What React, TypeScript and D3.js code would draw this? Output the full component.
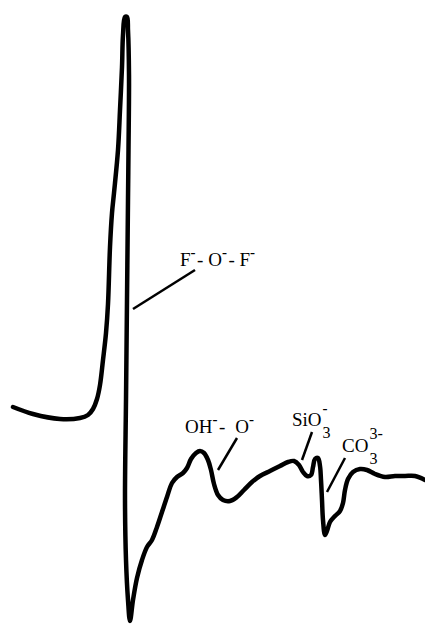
import * as d3 from "d3";
import React from "react";

// spectrum trace: field (arb. units) vs signal (arb. units, up = positive)
const field = [
  0, 20, 47, 67, 75, 80, 84, 87, 90, 93, 95, 97, 99, 101, 105, 107, 109, 110, 112, 114,
  115, 116, 115.5, 115, 114, 113, 112, 113, 115, 117, 120, 124, 129, 134, 139, 144, 149,
  154, 159, 164, 170, 174, 178, 183, 187, 191, 195, 198, 201, 205, 210, 217, 224, 231,
  239, 247, 257, 267, 275, 281, 286, 290, 294, 298, 300, 302, 305, 307, 308, 309, 310,
  312, 314, 317, 322, 327, 330, 332, 335, 340, 347, 354, 362, 372, 382, 392, 402, 412,
];
const signal = [
  0, -7, -12, -11, -8, -2, 8, 22, 47, 74, 103, 160, 194, 214, 257, 297, 340, 372, 390, 390,
  377, 332, 257, 207, 107, 7, -93, -153, -193, -214, -193, -171, -153, -140, -133, -120, -105,
  -90, -76, -70, -66, -61, -52, -46, -44, -46, -53, -63, -77, -88, -93, -94, -90, -83,
  -75, -69, -64, -59, -55, -54, -58, -65, -69, -68, -60, -52, -51, -59, -73, -93, -113,
  -128, -124, -115, -109, -104, -96, -83, -72, -65, -62, -63, -67, -70, -69, -69, -69, -73,
];

// annotation labels: text anchor + leader line (from curve to label), in data units
type Part = { t: string; sup?: boolean; sub?: boolean; stackSup?: string; dx?: number };
const labels: { parts: Part[]; tx: number; ty: number; line: [number, number, number, number] }[] = [
  {
    parts: [{ t: "F" }, { t: "-", sup: true }, { t: "- O" }, { t: "-", sup: true }, { t: "- F" }, { t: "-", sup: true }],
    tx: 167, ty: 141, line: [120, 98, 182, 137],
  },
  {
    parts: [{ t: "OH" }, { t: "-", sup: true }, { t: "-" }, { t: "O", dx: 10 }, { t: "-", sup: true }],
    tx: 172, ty: -26, line: [205, -63, 224, -31],
  },
  {
    parts: [{ t: "SiO" }, { t: "3", sub: true, stackSup: "-" }],
    tx: 279, ty: -19, line: [289, -53, 299, -25],
  },
  {
    parts: [{ t: "CO" }, { t: "3", sub: true, stackSup: "3-" }],
    tx: 329, ty: -45, line: [314, -85, 332, -51],
  },
];

const W = 425, H = 624;

const Label = ({ parts, x, y }: { parts: Part[]; x: number; y: number }) => {
  const spans: React.ReactNode[] = [];
  let shift = 0;
  parts.forEach((p, i) => {
    if (p.sup) {
      spans.push(<tspan key={i} dy={-9 - shift} fontSize={15} fontWeight="bold">{p.t}</tspan>);
      shift = -9;
    } else if (p.sub) {
      spans.push(<tspan key={i} dy={12 - shift} dx={1} fontSize={16}>{p.t}</tspan>);
      shift = 12;
      if (p.stackSup) {
        const w = p.t.length * 8;
        const single = p.stackSup === "-";
        spans.push(
          <tspan key={i + "s"} dx={-w} dy={-25} fontSize={single ? 15 : 16} fontWeight={single ? "bold" : "normal"}>
            {p.stackSup}
          </tspan>
        );
        shift = -13;
      }
    } else {
      spans.push(<tspan key={i} dy={-shift} dx={(p.dx ?? 0) + (shift !== 0 ? 1.5 : 0)}>{p.t}</tspan>);
      shift = 0;
    }
  });
  return (
    <text x={x} y={y} fontFamily="'Liberation Serif', 'Times New Roman', serif" fontSize={19} fill="#000">
      {spans}
    </text>
  );
};

export default function App() {
  const x = d3.scaleLinear().domain([0, 412]).range([13, 425]);
  const y = d3.scaleLinear().domain([-214, 390]).range([621, 17]);

  const pts: [number, number][] = field.map((f, i) => [f, signal[i]]);
  const line = d3
    .line<[number, number]>()
    .x((d) => x(d[0]))
    .y((d) => y(d[1]))
    .curve(d3.curveCatmullRom.alpha(0.5));

  return (
    <svg
      width={W}
      height={H}
      style={{ position: "absolute", left: 0, top: 0, background: "#fff", display: "block" }}
    >
      <path d={line(pts) ?? ""} fill="none" stroke="#000" strokeWidth={4.5} strokeLinejoin="round" strokeLinecap="round" />
      {labels.map((l, i) => (
        <g key={i}>
          <line
            x1={x(l.line[0])}
            y1={y(l.line[1])}
            x2={x(l.line[2])}
            y2={y(l.line[3])}
            stroke="#000"
            strokeWidth={2.5}
          />
          <Label parts={l.parts} x={x(l.tx)} y={y(l.ty)} />
        </g>
      ))}
    </svg>
  );
}
